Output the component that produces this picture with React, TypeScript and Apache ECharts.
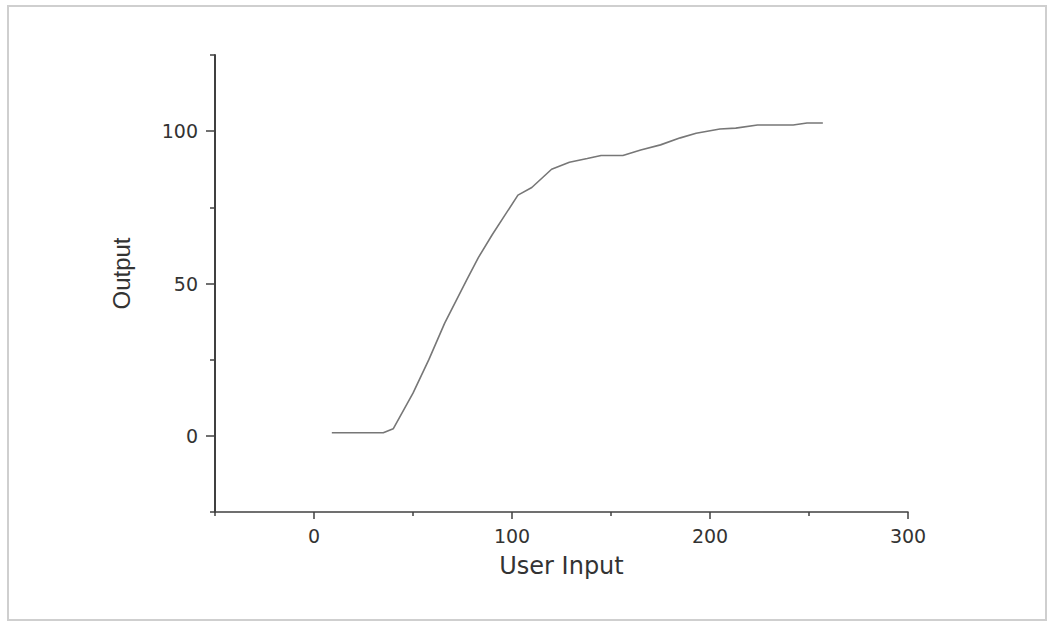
import React, { useEffect, useRef } from "react";
import * as echarts from "echarts";

const xTickLabels = [0, 100, 200, 300];
const xMinorTicks = [-50, 50, 150, 250];
const yTickLabels = [0, 50, 100];
const yMinorTicks = [-25, 25, 75, 125];

const userInput = [9, 20, 35, 40, 50, 58, 66, 77, 83, 90, 97, 103, 110, 120, 129, 138, 145, 156, 165, 175, 185, 193, 205, 213, 224, 242, 249, 257];
const output = [1, 1, 1, 2.3, 14, 25, 37, 51, 58.5, 66, 73, 79, 81.5, 87.5, 89.8, 91, 92, 92, 93.8, 95.5, 97.8, 99.3, 100.7, 101, 102, 102, 102.7, 102.7];

const AXIS_COLOR = "#404040";
const TEXT_COLOR = "#333333";

export default function App() {
  const ref = useRef<HTMLDivElement>(null);
  useEffect(() => {
    if (!ref.current) return;
    const chart = echarts.init(ref.current, null, { renderer: "svg" });
    const points = userInput.map((x, i) => [x, output[i]]);
    chart.setOption({
      animation: false,
      backgroundColor: "#ffffff",
      graphic: [
        {
          type: "rect",
          shape: { x: 8, y: 6, width: 1038, height: 614 },
          style: { fill: "none", stroke: "#cfcfcf", lineWidth: 2 },
          silent: true,
        },
      ],
      grid: { left: 215, right: 143, top: 55, bottom: 113, outerBoundsMode: "none" },
      xAxis: [
        {
          type: "value",
          min: -50,
          max: 300,
          position: "bottom",
          name: "User Input",
          nameLocation: "middle",
          nameGap: 42,
          nameTextStyle: { fontFamily: "DejaVu Sans", fontSize: 24, color: TEXT_COLOR },
          axisLine: { show: true, onZero: false, lineStyle: { color: AXIS_COLOR, width: 1.5 } },
          axisTick: { show: true, length: 7, customValues: xTickLabels, lineStyle: { color: AXIS_COLOR, width: 1.5 } },
          axisLabel: { customValues: xTickLabels, margin: 14, fontFamily: "DejaVu Sans", fontSize: 19, color: TEXT_COLOR },
          splitLine: { show: false },
        },
        {
          type: "value",
          min: -50,
          max: 300,
          position: "bottom",
          axisLine: { show: false, onZero: false },
          axisTick: { show: true, length: 4, customValues: xMinorTicks, lineStyle: { color: AXIS_COLOR, width: 1.5 } },
          axisLabel: { show: false },
          splitLine: { show: false },
        },
      ],
      yAxis: [
        {
          type: "value",
          min: -25,
          max: 125,
          position: "left",
          name: "Output",
          nameLocation: "middle",
          nameGap: 82,
          nameTextStyle: { fontFamily: "Liberation Sans", fontSize: 24, color: TEXT_COLOR, padding: [0, 0, 0, 20] },
          axisLine: { show: true, onZero: false, lineStyle: { color: AXIS_COLOR, width: 2 } },
          axisTick: { show: true, length: 9, customValues: yTickLabels, lineStyle: { color: AXIS_COLOR, width: 1.5 } },
          axisLabel: { customValues: yTickLabels, margin: 17, fontFamily: "DejaVu Sans", fontSize: 19, color: TEXT_COLOR },
          splitLine: { show: false },
        },
        {
          type: "value",
          min: -25,
          max: 125,
          position: "left",
          axisLine: { show: false, onZero: false },
          axisTick: { show: true, length: 5, customValues: yMinorTicks, lineStyle: { color: AXIS_COLOR, width: 1.5 } },
          axisLabel: { show: false },
          splitLine: { show: false },
        },
      ],
      series: [
        {
          type: "line",
          xAxisIndex: 0,
          yAxisIndex: 0,
          data: points,
          showSymbol: false,
          symbol: "none",
          lineStyle: { color: "#777777", width: 1.6 },
        },
      ],
    });
    return () => chart.dispose();
  }, []);
  return <div ref={ref} style={{ position: "absolute", left: 0, top: 0, width: 1051, height: 625 }} />;
}
